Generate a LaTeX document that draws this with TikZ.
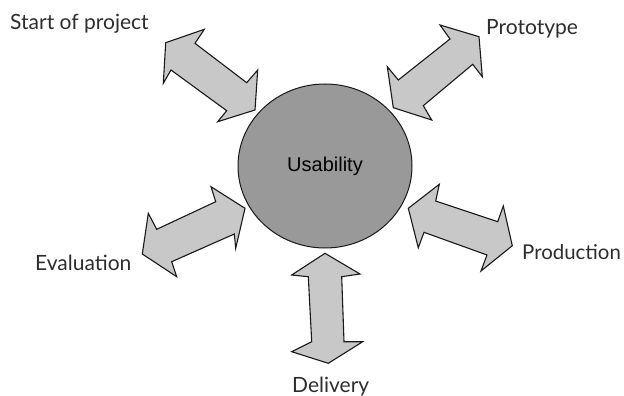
\documentclass[tikz,border=0pt]{standalone}
\usepackage{fontspec}
\setmainfont{Lato}
\newfontfamily\arialfont{Liberation Sans}
\usetikzlibrary{shapes.geometric}
\definecolor{arrowfill}{RGB}{200,200,200}
\definecolor{circfill}{RGB}{153,153,153}
\definecolor{labeltext}{RGB}{45,45,45}
\tikzset{
  blockarrow/.style={draw=black!90, fill=arrowfill, line width=1.1pt, line join=miter},
  hub/.style={ellipse, draw=black!90, fill=circfill, line width=1pt, minimum width=174pt, minimum height=164pt, inner sep=0pt, font=\arialfont\fontsize{20}{24}\selectfont},
  lbl/.style={anchor=base west, inner sep=0pt, text=labeltext, font=\fontsize{21}{25}\selectfont}
}
\begin{document}
\begin{tikzpicture}[x=1pt,y=-1pt]
\useasboundingbox (0,0) rectangle (624,396);
% Start of project arrow
\draw[blockarrow] (204.3,29.3) -- (165.7,42.7) -- (163.3,83.3) -- (171,70) -- (226.7,110.7) -- (217.7,121.7) -- (255,110) -- (257.7,70) -- (246.7,82.7) -- (195,43.3) -- cycle;
% Prototype arrow
\draw[blockarrow] (440,25) -- (479,36.7) -- (482.3,76.7) -- (472.7,64.3) -- (423.3,105.7) -- (431.7,120) -- (393.3,107.7) -- (387.3,66.7) -- (398.3,80) -- (450,39) -- cycle;
% Evaluation arrow
\draw[blockarrow] (211,186.7) -- (245,208.3) -- (235.7,248.3) -- (234.3,234) -- (171.7,261.7) -- (176.7,276.7) -- (142.3,254) -- (148.3,213.3) -- (156.7,229.3) -- (215.7,201.7) -- cycle;
% Production arrow
\draw[blockarrow] (439.3,184.3) -- (408.3,208.3) -- (418.3,247.7) -- (424,232.3) -- (487,255) -- (481,271) -- (512.3,245.7) -- (503.3,206) -- (497.7,221.7) -- (435.7,201) -- cycle;
% Delivery arrow
\draw[blockarrow] (325,253.3) -- (360,274) -- (341.7,276.7) -- (344,341.7) -- (362.7,341.7) -- (328.3,363.3) -- (291.7,351.7) -- (311.7,341.7) -- (308.3,276.7) -- (291.7,275) -- cycle;
% Hub
\node[hub] (usab) at (325,166) {Usability};
% Labels
\node[lbl] (start) at (10,29.3) {Start of project};
\node[lbl] (proto) at (486,34.3) {Prototype};
\node[lbl] (eval) at (35,270.7) {Evaluation};
\node[lbl, font=\fontsize{20.4}{24}\selectfont] (prod) at (522,259) {Production};
\node[lbl] (deliv) at (292,392) {Delivery};
\end{tikzpicture}
\end{document}
